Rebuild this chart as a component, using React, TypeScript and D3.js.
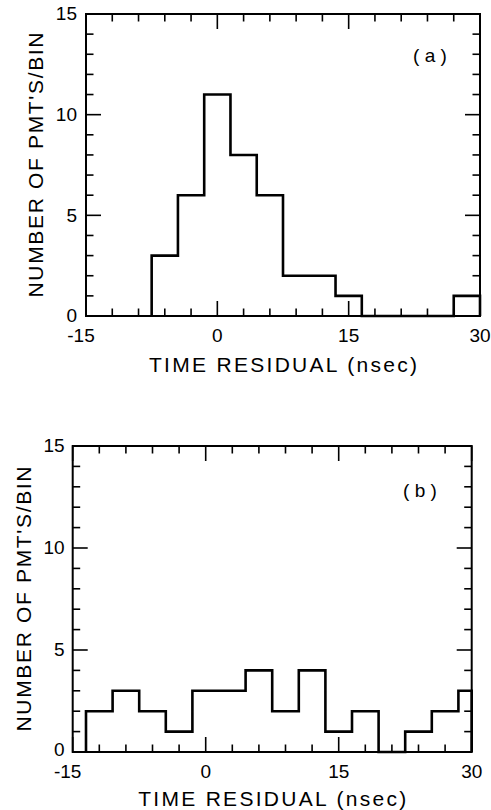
import React from "react";
import * as d3 from "d3";

// ---- Data ----
const binEdgesA = [-7.5, -4.5, -1.5, 1.5, 4.5, 7.5, 10.5, 13.5, 16.5, 27, 30];
const countsA = [3, 6, 11, 8, 6, 2, 2, 1, 0, 1];
const binEdgesB = [-13.5, -10.5, -7.5, -4.5, -1.5, 1.5, 4.5, 7.5, 10.5, 13.5, 16.5, 19.5, 22.5, 25.5, 28.5, 30];
const countsB = [2, 3, 2, 1, 3, 3, 4, 2, 4, 1, 2, 0, 1, 2, 3];
const xTickValues = d3.range(-15, 31, 3);
const xMajorLabels = [-15, 0, 15, 30];
const yTickValues = d3.range(0, 16, 1);
const yMajorLabels = [0, 5, 10, 15];
const xTitle = "TIME RESIDUAL (nsec)";
const yTitle = "NUMBER OF PMT'S/BIN";
const panelLabels = ["( a )", "( b )"];

const FONT = "'Liberation Sans', Arial, Helvetica, sans-serif";

type PanelProps = {
  left: number; right: number; top: number; bottom: number;
  edges: number[]; counts: number[]; label: string;
  xLabelY: number; titleY: number; yTitleX: number;
  labelX: number; labelY: number; yLabelGap: number; zeroDy: number;
};

function Panel(p: PanelProps) {
  const x = d3.scaleLinear().domain([-15, 30]).range([p.left, p.right]);
  const y = d3.scaleLinear().domain([0, 15]).range([p.bottom, p.top]);
  const n = p.counts.length;
  const pts: [number, number][] = [[p.edges[0], 0]];
  for (let i = 0; i < n; i++) pts.push([p.edges[i], p.counts[i]]);
  pts.push([p.edges[n], p.counts[n - 1]]);
  pts.push([p.edges[n], 0]);
  const line = d3.line<[number, number]>()
    .x(d => x(d[0]))
    .y(d => y(d[1]))
    .curve(d3.curveStepAfter);
  const major = 15, minor = 7.5;
  const isMajX = (v: number) => v % 15 === 0;
  const isMajY = (v: number) => v % 5 === 0;
  const cy = (p.top + p.bottom) / 2;
  const cx = (p.left + p.right) / 2;
  return (
    <g>
      {xTickValues.map(v => {
        const L = isMajX(v) ? major : minor;
        return (
          <g key={"xt" + v} stroke="#000" strokeWidth={1.6}>
            <line x1={x(v)} x2={x(v)} y1={p.bottom} y2={p.bottom - L} />
            <line x1={x(v)} x2={x(v)} y1={p.top} y2={p.top + L} />
          </g>
        );
      })}
      {yTickValues.map(v => {
        const L = isMajY(v) ? major : minor;
        return (
          <g key={"yt" + v} stroke="#000" strokeWidth={1.6}>
            <line x1={p.left} x2={p.left + L} y1={y(v)} y2={y(v)} />
            <line x1={p.right} x2={p.right - L} y1={y(v)} y2={y(v)} />
          </g>
        );
      })}
      <rect x={p.left} y={p.top} width={p.right - p.left} height={p.bottom - p.top}
        fill="none" stroke="#000" strokeWidth={2} />
      <path d={line(pts) || ""} fill="none" stroke="#000" strokeWidth={2.6} strokeLinejoin="miter" />
      {xMajorLabels.map(v => (
        <text key={"xl" + v} x={x(v)} y={p.xLabelY} dx={v < 0 ? -5 : 0}
          textAnchor="middle" fontSize={19} fontFamily={FONT} fill="#000">
          {v < 0 ? "-" + Math.abs(v) : String(v)}
        </text>
      ))}
      {yMajorLabels.map(v => (
        <text key={"yl" + v} x={p.left - p.yLabelGap} y={y(v)} dy={v === 0 ? p.zeroDy + "em" : "0.34em"}
          textAnchor="end" fontSize={19} fontFamily={FONT} fill="#000">
          {v}
        </text>
      ))}
      <text x={cx} y={p.titleY} textAnchor="middle" fontSize={21} fontFamily={FONT}
        textLength={268} lengthAdjust="spacing" fill="#000">{xTitle}</text>
      <text transform={`translate(${p.yTitleX},${cy}) rotate(-90)`} textAnchor="middle"
        fontSize={21} fontFamily={FONT} textLength={265} lengthAdjust="spacing" fill="#000">
        {yTitle}
      </text>
      <text x={p.labelX} y={p.labelY} textAnchor="middle" fontSize={19} fontFamily={FONT} fill="#000">
        {p.label}
      </text>
    </g>
  );
}

export default function App() {
  return (
    <svg width={491} height={810} style={{ position: "absolute", left: 0, top: 0, background: "#fff" }}>
      <rect x={0} y={0} width={491} height={810} fill="#fff" />
      <Panel left={86} right={480} top={14} bottom={316}
        edges={binEdgesA} counts={countsA} label={panelLabels[0]}
        xLabelY={342} titleY={372} yTitleX={43} labelX={430} labelY={62} yLabelGap={9} zeroDy={0.3} />
      <Panel left={72.7} right={471.7} top={446} bottom={752}
        edges={binEdgesB} counts={countsB} label={panelLabels[1]}
        xLabelY={778} titleY={806} yTitleX={31} labelX={420} labelY={497} yLabelGap={8} zeroDy={0.2} />
    </svg>
  );
}
